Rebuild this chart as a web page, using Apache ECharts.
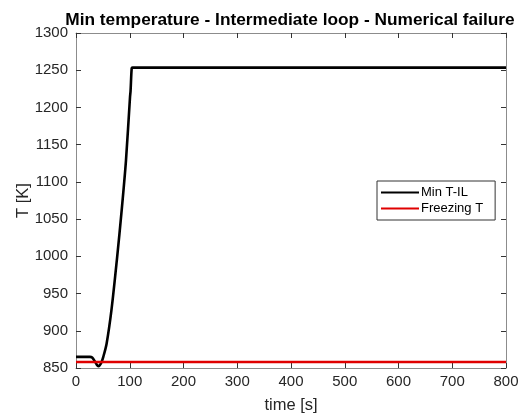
<!DOCTYPE html>
<html><head><meta charset="utf-8">
<script src="https://cdn.jsdelivr.net/npm/echarts@6/dist/echarts.min.js"></script>
<style>html,body{margin:0;padding:0;background:#fff}#c{width:519px;height:418px}</style>
</head><body><div id="c"></div>
<script>
const titleText = 'Min temperature - Intermediate loop - Numerical failure';
const xLabel = 'time [s]';
const yLabel = 'T [K]';
const seriesNames = ['Min T-IL', 'Freezing T'];
const minTime = [0, 26, 30, 35, 39, 41.5, 44, 47, 50.8, 57, 66, 76, 85, 93, 100.5, 101.5, 103.6, 105, 800];
const minTemp = [865, 865, 864, 859, 854, 852.5, 853.5, 857, 865, 883, 928, 995, 1062, 1129, 1214, 1222, 1252.5, 1253.5, 1253.5];
const freezeTime = [0, 800];
const freezeTemp = [858, 858];
const xRange = [0, 800, 100];
const yRange = [850, 1300, 50];

const font = 'Liberation Sans, Arial, Helvetica, sans-serif';
const axisCol = '#8c8c8c';
const txtCol = '#262626';
const pair = (xs, ys) => xs.map((x, i) => [x, ys[i]]);
const mkTick = (len, col) => ({show: true, inside: true, length: len, lineStyle: {color: col, width: 1}});
const mkAxis = (r, extra) => Object.assign({type: 'value', min: r[0], max: r[1], interval: r[2],
  axisLine: {show: true, onZero: false, lineStyle: {color: axisCol, width: 1}},
  axisTick: mkTick(5, '#333'), minorTick: {show: false}, splitLine: {show: false}}, extra);
const chart = echarts.init(document.getElementById('c'), null, {renderer: 'canvas'});
chart.setOption({
  animation: false,
  backgroundColor: '#fff',
  title: {text: titleText, left: 285, textAlign: 'center', top: 7,
    textStyle: {fontFamily: font, fontSize: 17.3, fontWeight: 'bold', color: '#000'}},
  grid: {left: 76, right: 13, top: 33, bottom: 50, containLabel: false, outerBoundsMode: 'none'},
  xAxis: [
    mkAxis(xRange, {position: 'bottom', name: xLabel, nameLocation: 'middle', nameGap: 29,
      nameMoveOverlap: false,
      nameTextStyle: {fontFamily: font, fontSize: 16.5, color: txtCol},
      axisLabel: {fontFamily: font, fontSize: 15, color: txtCol, margin: 6, formatter: v => String(v)}}),
    mkAxis(xRange, {position: 'top', axisLabel: {show: false}})
  ],
  yAxis: [
    mkAxis(yRange, {position: 'left', name: yLabel, nameLocation: 'middle', nameGap: 44,
      nameMoveOverlap: false,
      nameTextStyle: {fontFamily: font, fontSize: 16.5, color: txtCol},
      axisLabel: {fontFamily: font, fontSize: 15, color: txtCol, margin: 8, formatter: v => String(v)}}),
    mkAxis(yRange, {position: 'right', axisLabel: {show: false}})
  ],
  legend: {orient: 'vertical', left: 377, top: 181, padding: [5, 12, 5, 4], itemGap: 3,
    itemWidth: 38, itemHeight: 2, borderColor: '#333', borderWidth: 1, backgroundColor: '#fff',
    textStyle: {fontFamily: font, fontSize: 13, color: '#000', padding: [0, 0, 0, -3]},
    data: seriesNames.map(n => ({name: n, icon: 'rect'}))},
  series: [
    {name: seriesNames[0], type: 'line', data: pair(minTime, minTemp), showSymbol: false, symbol: 'none',
      lineStyle: {color: '#000', width: 2.6}, itemStyle: {color: '#000'}, smooth: 0.3},
    {name: seriesNames[1], type: 'line', data: pair(freezeTime, freezeTemp), showSymbol: false, symbol: 'none',
      lineStyle: {color: '#e00000', width: 2.6}, itemStyle: {color: '#e00000'}}
  ]
});
</script></body></html>
